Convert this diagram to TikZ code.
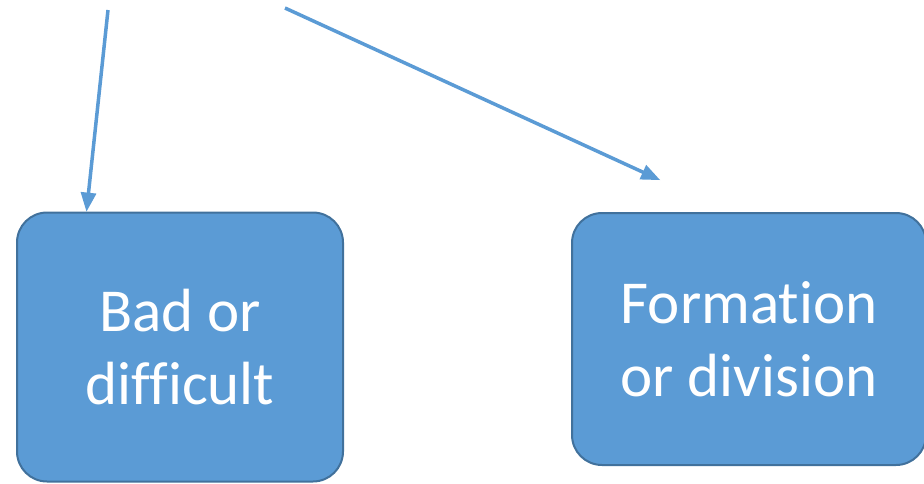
\documentclass[tikz,border=0pt]{standalone}
\usepackage{fontspec}
\setmainfont[Ligatures=NoCommon]{Carlito}
\usepackage{tikz}
\definecolor{boxBody}{HTML}{5B9BD5}
\definecolor{boxBorder}{HTML}{41719C}
\usetikzlibrary{arrows}
\usetikzlibrary{calc}
\tikzstyle{topic} = [rectangle, rounded corners=30pt, fill=boxBody, draw=boxBorder,
        line width=2pt, text=white, align=center, inner sep=0pt,
        font={\fontsize{61}{73}\selectfont}]
\tikzstyle{link} = [draw=boxBody, line width=3.5pt, -triangle 45]

\begin{document}
\begin{tikzpicture}[x=1pt, y=-1pt]
            \useasboundingbox (0,0) rectangle (924,483);
            \node [topic, minimum width=326pt, minimum height=269pt] (bad) at (180,347) {Bad or\\difficult};
            \node [topic, minimum width=354pt, minimum height=252pt] (form) at (749,339) {Formation\\or division};
            \coordinate (src1) at (108,10);
            \coordinate (src2) at (285,8);
            \coordinate (end2) at (660,180);
            \draw [link] (src1) -- ($(bad.north west)!0.215!(bad.north east)$);
            \draw [link] (src2) -- (end2);
        \end{tikzpicture}
\end{document}
